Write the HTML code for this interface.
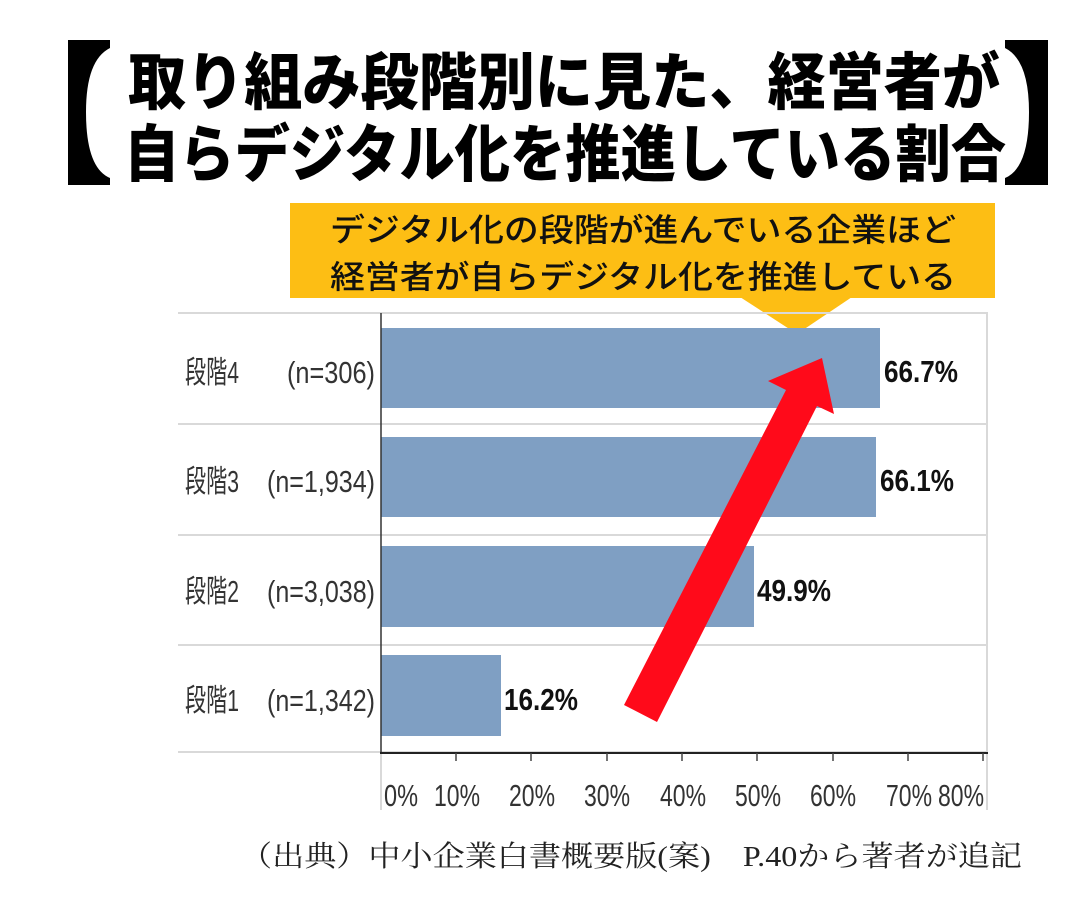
<!DOCTYPE html>
<html><head><meta charset="utf-8"><style>
html,body{margin:0;padding:0;background:#fff;}
svg{display:block;}
</style></head><body>
<svg width="1086" height="902" viewBox="0 0 1086 902" xmlns="http://www.w3.org/2000/svg">
<rect width="1086" height="902" fill="#fff"/>
<path d="M68,40 H110 V48 Q86,60 86,112 Q86,168 110,178 V185 H68 Z" fill="#000"/>
<path d="M1048,40 H1005 V48 Q1029,60 1029,112 Q1029,168 1005,178 V185 H1048 Z" fill="#000"/>
<g font-family="'Liberation Sans','Noto Sans CJK JP',sans-serif" font-weight="900" fill="#000">
<text x="128" y="104" font-size="62" textLength="872" lengthAdjust="spacingAndGlyphs">取り組み段階別に見た、経営者が</text>
<text x="124" y="176" font-size="62" textLength="882" lengthAdjust="spacingAndGlyphs">自らデジタル化を推進している割合</text>
</g>
<rect x="290" y="203" width="705" height="95" fill="#FDBE14"/>
<polygon points="740,297 852,297 797,334" fill="#FDBE14"/>
<g font-family="'Liberation Sans','Noto Sans CJK JP',sans-serif" font-weight="500" fill="#111">
<text x="330" y="241" font-size="32" textLength="626" lengthAdjust="spacingAndGlyphs">デジタル化の段階が進んでいる企業ほど</text>
<text x="330" y="288" font-size="32" textLength="626" lengthAdjust="spacingAndGlyphs">経営者が自らデジタル化を推進している</text>
</g>
<g stroke="#d9d9d9" stroke-width="2">
<line x1="178" y1="313" x2="988" y2="313"/>
<line x1="178" y1="424" x2="988" y2="424"/>
<line x1="178" y1="535" x2="988" y2="535"/>
<line x1="178" y1="645" x2="988" y2="645"/>
<line x1="178" y1="752" x2="988" y2="752"/>
<line x1="987" y1="313" x2="987" y2="810"/>
<line x1="381" y1="752" x2="381" y2="810"/>
</g>
<g fill="#7F9FC3">
<rect x="381" y="328" width="499" height="80"/>
<rect x="381" y="437" width="495" height="80"/>
<rect x="381" y="546" width="373" height="81"/>
<rect x="381" y="655" width="120" height="81"/>
</g>
<line x1="381" y1="313" x2="381" y2="753" stroke="#333" stroke-width="1.5"/>
<line x1="380" y1="753" x2="988" y2="753" stroke="#222" stroke-width="2"/>
<g stroke="#444" stroke-width="1.5">
<line x1="456" y1="753" x2="456" y2="761"/><line x1="531" y1="753" x2="531" y2="761"/>
<line x1="607" y1="753" x2="607" y2="761"/><line x1="682" y1="753" x2="682" y2="761"/>
<line x1="757" y1="753" x2="757" y2="761"/><line x1="833" y1="753" x2="833" y2="761"/>
<line x1="908" y1="753" x2="908" y2="761"/><line x1="983" y1="753" x2="983" y2="761"/>
</g>
<g font-family="'Liberation Sans','Noto Sans CJK JP',sans-serif" font-size="31" fill="#333">
<text x="384" y="806" textLength="34" lengthAdjust="spacingAndGlyphs">0%</text>
<text x="434" y="806" textLength="46" lengthAdjust="spacingAndGlyphs">10%</text>
<text x="509" y="806" textLength="46" lengthAdjust="spacingAndGlyphs">20%</text>
<text x="584" y="806" textLength="46" lengthAdjust="spacingAndGlyphs">30%</text>
<text x="660" y="806" textLength="46" lengthAdjust="spacingAndGlyphs">40%</text>
<text x="735" y="806" textLength="46" lengthAdjust="spacingAndGlyphs">50%</text>
<text x="810" y="806" textLength="46" lengthAdjust="spacingAndGlyphs">60%</text>
<text x="886" y="806" textLength="46" lengthAdjust="spacingAndGlyphs">70%</text>
<text x="938" y="806" textLength="46" lengthAdjust="spacingAndGlyphs">80%</text>
<text x="185" y="383" textLength="54" lengthAdjust="spacingAndGlyphs">段階4</text>
<text x="287" y="383" textLength="88" lengthAdjust="spacingAndGlyphs">(n=306)</text>
<text x="185" y="492" textLength="54" lengthAdjust="spacingAndGlyphs">段階3</text>
<text x="267" y="492" textLength="108" lengthAdjust="spacingAndGlyphs">(n=1,934)</text>
<text x="185" y="602" textLength="54" lengthAdjust="spacingAndGlyphs">段階2</text>
<text x="267" y="602" textLength="108" lengthAdjust="spacingAndGlyphs">(n=3,038)</text>
<text x="185" y="711" textLength="54" lengthAdjust="spacingAndGlyphs">段階1</text>
<text x="267" y="711" textLength="108" lengthAdjust="spacingAndGlyphs">(n=1,342)</text>
</g>
<g font-family="'Liberation Sans',sans-serif" font-size="31" font-weight="bold" fill="#111">
<text x="884" y="382" textLength="74" lengthAdjust="spacingAndGlyphs">66.7%</text>
<text x="880" y="491" textLength="74" lengthAdjust="spacingAndGlyphs">66.1%</text>
<text x="757" y="601" textLength="74" lengthAdjust="spacingAndGlyphs">49.9%</text>
<text x="504" y="710" textLength="74" lengthAdjust="spacingAndGlyphs">16.2%</text>
</g>
<polygon points="624,705 786,390 768,381 822,358 834,414 817,406 657,722" fill="#FF0A1A"/>
<text x="240" y="866" font-family="'Liberation Serif','Noto Serif CJK SC',serif" font-size="29" fill="#222" textLength="782" lengthAdjust="spacingAndGlyphs">（出典）中小企業白書概要版(案)　P.40から著者が追記</text>
</svg>
</body></html>
